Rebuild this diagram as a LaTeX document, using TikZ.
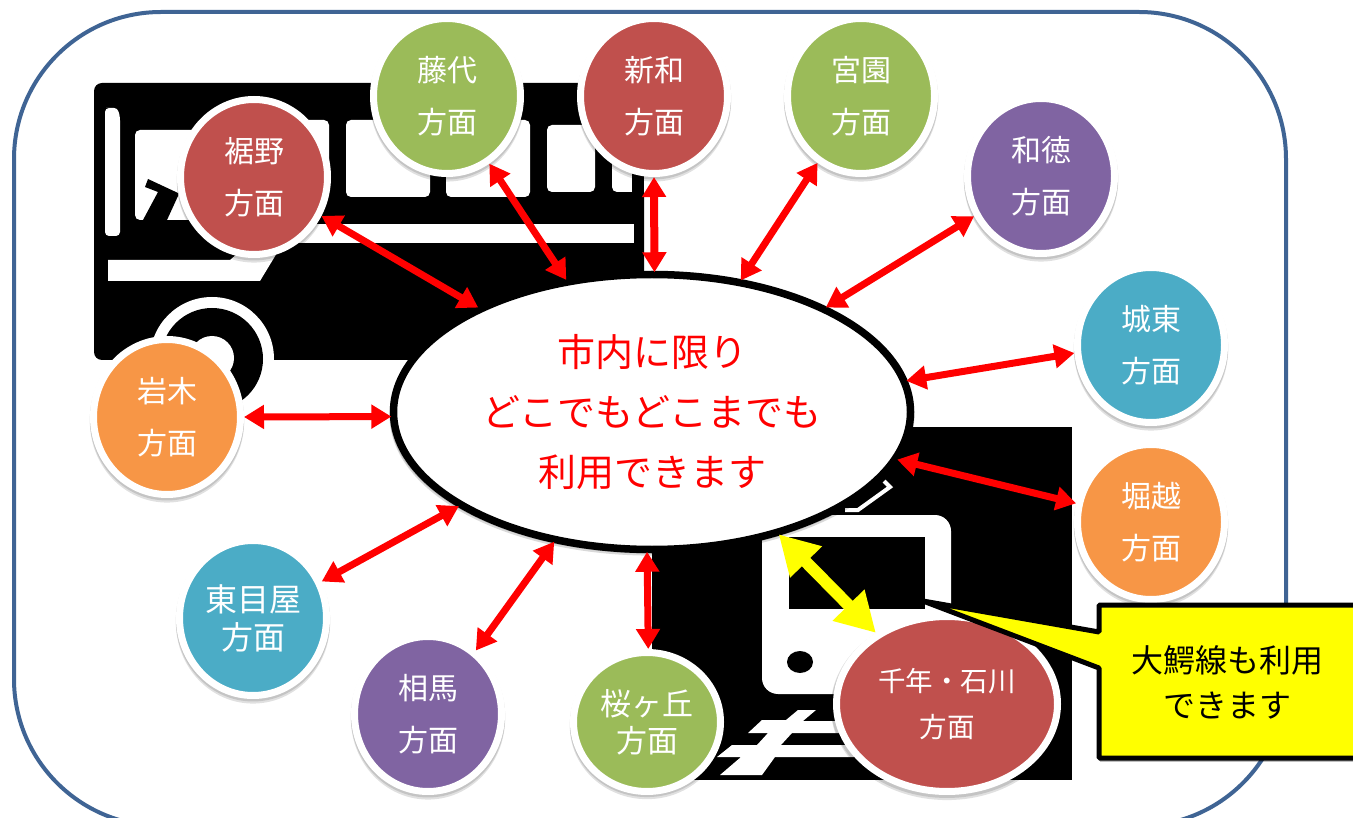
\documentclass[tikz,border=0pt]{standalone}
\usepackage{fontspec}
\setmainfont{Noto Sans CJK JP}
\usetikzlibrary{shapes.geometric,arrows.meta,shadows}
\definecolor{cred}{HTML}{C0504D}
\definecolor{cgreen}{HTML}{9BBB59}
\definecolor{cpurple}{HTML}{8064A2}
\definecolor{cteal}{HTML}{4BACC6}
\definecolor{corange}{HTML}{F79646}
\definecolor{cframe}{HTML}{3F6494}
\definecolor{cyellow}{rgb}{1,1,0}
\definecolor{cline}{rgb}{1,0,0}
\tikzset{
  softshadow/.style={general shadow={fill=black,opacity=.12,shadow xshift=0pt,shadow yshift=-2pt,shadow scale=1.05},
                     general shadow={fill=black,opacity=.12,shadow xshift=0pt,shadow yshift=-4pt,shadow scale=1.05}},
  hubshadow/.style={general shadow={fill=black,opacity=.15,shadow xshift=0pt,shadow yshift=-2pt,shadow scale=1.015},
                     general shadow={fill=black,opacity=.15,shadow xshift=0pt,shadow yshift=-4pt,shadow scale=1.015}},
  spot/.style={ellipse,draw=white,line width=7pt,minimum width=147pt,minimum height=155pt,inner sep=0pt,
     text=white,align=center,font=\fontsize{30}{52}\selectfont,softshadow},
  hub/.style={ellipse,draw=black,fill=white,line width=7.5pt,minimum width=517pt,minimum height=275pt,inner sep=0pt,
     text=cline,align=center,font=\fontsize{38}{60}\selectfont,hubshadow},
  link/.style={draw=cline,line width=7pt,shorten >=-1.5pt,{Triangle[length=20pt,width=23pt]}-{Triangle[length=20pt,width=23pt]}},
  yellowlink/.style={draw=cyellow,line width=12pt,shorten >=-1.5pt,{Triangle[length=39pt,width=42pt]}-{Triangle[length=39pt,width=42pt]}},
  callout/.style={draw=black,fill=cyellow,line width=5pt,line join=bevel},
  calltext/.style={text=black,align=center,inner sep=0pt,font=\fontsize{32}{45}\selectfont},
  win/.style={fill=white,rounded corners=5pt}
}
\begin{document}
\begin{tikzpicture}[x=1pt,y=-1pt]
\path[use as bounding box,clip] (0,0) rectangle (1353,818);
\fill[white] (0,0) rectangle (1353,818);
% outer frame
\draw[cframe,line width=4pt,rounded corners=147pt] (14,12) rectangle (1286,826);
% bus pictogram
\fill[black,rounded corners=8pt] (94,83) rectangle (644,360);
\fill[black] (632,200) rectangle (644,360);
\fill[white,rounded corners=4pt] (105,108) -- (110,108) to[out=0,in=90] (120,135) -- (120,236) -- (105,236) -- cycle;
\fill[win] (135,130) rectangle (245,220);
\fill[win] (248,120) rectangle (329,197);
\fill[win] (346,120) rectangle (430,197);
\fill[win] (446,120) rectangle (530,197);
\fill[win] (547,125) rectangle (595,192);
\fill[win] (612,125) rectangle (660,192);
\fill[black] (632,110) rectangle (644,200);
\fill[black] (145,187) -- (148,179) -- (178,193) -- (178,196) -- (167,220) -- (143,220) -- (158,192) -- cycle;
\fill[white] (270,224) rectangle (634,243);
\fill[white] (108,260) -- (230,260) -- (250,243) -- (283,243) -- (260,281) -- (108,281) -- cycle;
\begin{scope}
  \clip (90,250) rectangle (400,360);
  \fill[white] (212,359) circle [radius=62];
\end{scope}
\fill[black] (212,359) circle [radius=51];
\fill[white] (212,358) circle [radius=22];
% train pictogram
\fill[black] (652,427) rectangle (1072,780);
\fill[white,rounded corners=16pt] (762,515) rectangle (951,694);
\fill[black] (789,537) rectangle (925,609);
\fill[black] (800,662) ellipse [x radius=13,y radius=11];
\draw[white,line width=4pt] (845,510) -- (858,510) -- (890,487) -- (884,481);
\fill[white] (798,710) -- (816,710) -- (803,721) -- (860,721) -- (860,733) -- (792,733) -- (781,745) -- (860,745) -- (860,757) -- (775,757) -- (762,775) -- (720,775) -- (741,757) -- (717,757) -- (732,745) -- (757,745) -- (768,733) -- (748,733) -- (762,720) -- (786,720) -- cycle;
% centre
\node[hub] (centre) at (652,412) {市内に限り\\どこでもどこまでも\\利用できます};
% destinations
\node[spot,fill=cred] (susono) at (254,177) {裾野\\方面};
\node[spot,fill=cgreen] (fujishiro) at (447,96) {藤代\\方面};
\node[spot,fill=cred] (shinwa) at (654,96) {新和\\方面};
\node[spot,fill=cgreen] (miyazono) at (861,96) {宮園\\方面};
\node[spot,fill=cpurple] (watoku) at (1041,176) {和徳\\方面};
\node[spot,fill=cteal] (joto) at (1151,345) {城東\\方面};
\node[spot,fill=corange] (horikoshi) at (1151,522) {堀越\\方面};
\node[spot,fill=corange] (iwaki) at (167,417) {岩木\\方面};
\node[spot,fill=cteal,font=\fontsize{32}{38}\selectfont] (higashimeya) at (253,618) {東目屋\\方面};
\node[spot,fill=cpurple] (soma) at (428,714) {相馬\\方面};
\node[spot,fill=cgreen,minimum height=139pt,font=\fontsize{31}{37}\selectfont] (sakuragaoka) at (647,722) {桜ヶ丘\\方面};
\node[spot,fill=cred,minimum width=221pt,minimum height=175pt,font=\fontsize{27.5}{46}\selectfont] (chitose) at (947,704) {千年・石川\\方面};
% connectors
\draw[link] (susono.-30.6) -- (centre.149.6);
\draw[link] (fujishiro.-58.1) -- (centre.123.2);
\draw[link,line width=8pt] (shinwa.-90) -- (centre.89.5);
\draw[link] (miyazono.237.3) -- (centre.56.2);
\draw[link] (watoku.211.2) -- (centre.31.3);
\draw[link] (joto.186.8) -- (centre.7.4);
\draw[link] (horikoshi.166.1) -- (centre.-11.8);
\draw[link] (iwaki.0) -- (centre.181.5);
\draw[link] (higashimeya.28.2) -- (centre.206.9);
\draw[link] (soma.53.9) -- (centre.233.6);
\draw[link] (sakuragaoka.89) -- (centre.268.3);
\draw[yellowlink] (chitose.135.4) -- (centre.-44.5);
% callout
\fill[black,opacity=.25] (1100,608) -- (1100,762) -- (1370,762) -- (1370,608) -- cycle;
\draw[callout] (1099,605) -- (1099,632) -- (923,601) -- (1099,668) -- (1099,758) -- (1370,758) -- (1370,605) -- cycle;
\node[calltext] (note) at (1227,682) {大鰐線も利用\\できます};
\end{tikzpicture}
\end{document}
